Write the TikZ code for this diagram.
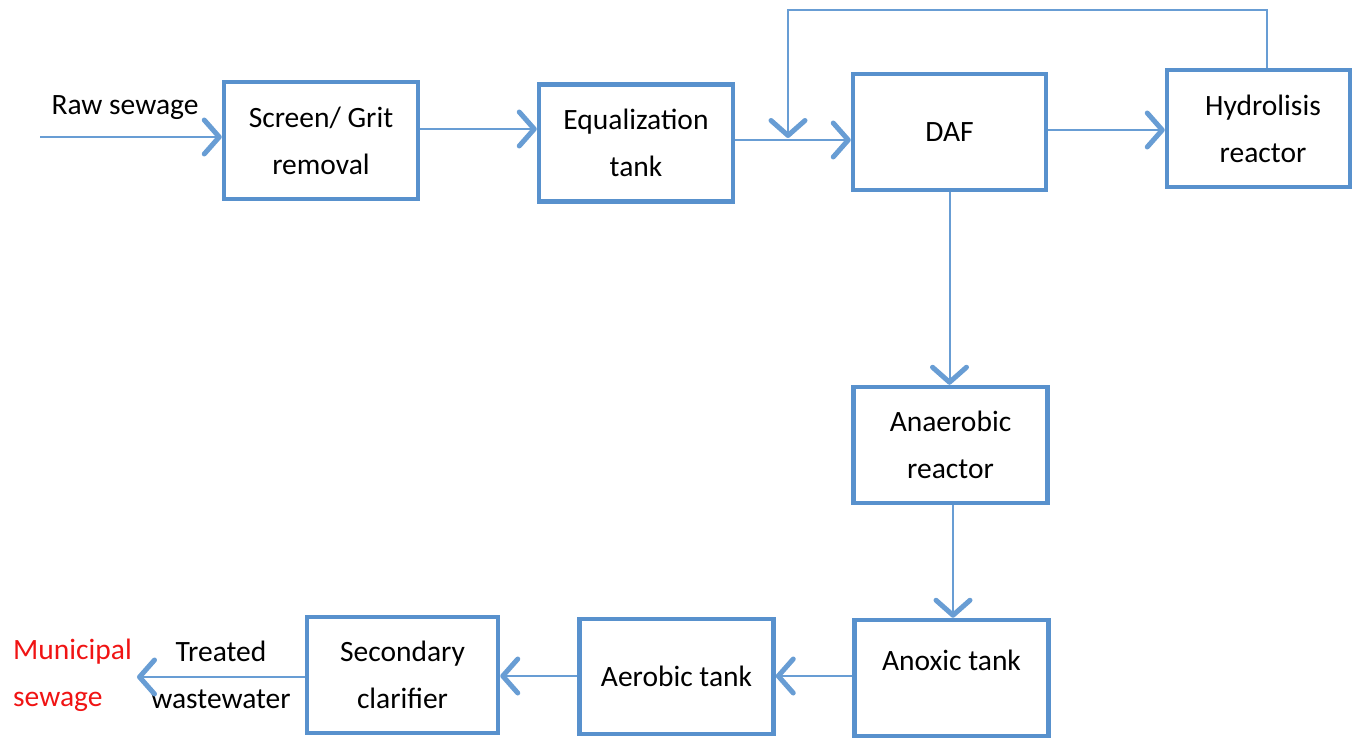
\documentclass[tikz,border=0pt]{standalone}
\usepackage{fontspec}
\setmainfont{Carlito}
\usetikzlibrary{arrows.meta}
\definecolor{bx}{RGB}{88,145,205}
\definecolor{ln}{RGB}{104,157,212}
\definecolor{redtxt}{RGB}{240,20,20}
\begin{document}
\begin{tikzpicture}[x=1pt,y=-1pt,
  txt/.style={font=\fontsize{29.5}{47}\selectfont,align=center,inner sep=0pt},
  box/.style={txt,draw=bx,line width=4.5pt,minimum width=194pt,minimum height=117pt},
  flow/.style={draw=ln,line width=2pt,-{Straight Barb[length=15pt,width=34pt,line width=5pt,round]}}]
\useasboundingbox (0,0) rectangle (1354,738);

\node[box] (screen) at (321,140.5) {Screen/ Grit\\removal};
\node[box] (equal) at (636,143) {Equalization\\tank};
\node[box, minimum width=193pt, minimum height=116pt] (daf) at (949.5,132) {DAF};
\node[box, minimum width=183pt] (hydro) at (1258.5,128.5) {\hspace*{9pt}Hydrolisis\\\hspace*{9pt}reactor};
\node[box, minimum height=116pt] (anaer) at (950.5,445) {Anaerobic\\reactor};
\node[box, minimum height=116pt] (anox) at (951.5,678) {};
\node[txt] (anoxt) at (951.5,660) {Anoxic tank};
\node[box, minimum height=115pt] (aer) at (676.5,676.5) {Aerobic tank};
\node[box, minimum width=191pt, minimum height=116pt] (sec) at (402.5,675) {Secondary\\clarifier};

\node[txt] (raw) at (125,108) {Raw sewage};
\node[txt] (treated) at (221,675) {Treated\\wastewater};
\node[txt, align=left, anchor=west, text=redtxt] (muni) at (13,675) {Municipal\\sewage};

\coordinate (rawin) at (40,137);
\coordinate (fbtop) at (788,10);
\coordinate (fbend) at (788,138);
\coordinate (out) at (137,677);

\draw[flow] (rawin) -- (screen.west |- rawin);
\draw[flow] ([yshift=11.5pt]screen.east) -- ([yshift=14pt]equal.west);
\draw[flow] ([yshift=3pt]equal.east) -- ([yshift=-8pt]daf.west);
\draw[flow] ([yshift=2pt]daf.east) -- ([yshift=-1.5pt]hydro.west);
\draw[flow] ([xshift=8.5pt]hydro.north) |- (fbtop) -- (fbend);
\draw[flow] (daf.south) -- (daf.south |- anaer.north);
\draw[flow] ([xshift=2.5pt]anaer.south) -- ([xshift=1.5pt]anox.north);
\draw[flow] ([yshift=2pt]anox.west) -- ([yshift=0.5pt]aer.east);
\draw[flow] ([yshift=0.5pt]aer.west) -- ([yshift=-1pt]sec.east);
\draw[flow] ([yshift=-2pt]sec.west) -- (out);
\end{tikzpicture}
\end{document}
